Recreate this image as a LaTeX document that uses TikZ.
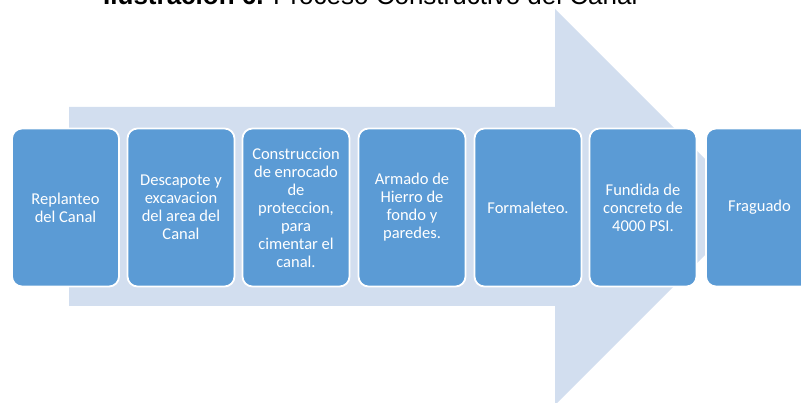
\documentclass[tikz,border=0pt]{standalone}
\usepackage{fontspec}
\setmainfont{Carlito}
\newfontfamily\titlefont{Liberation Sans}
\definecolor{boxblue}{RGB}{91,155,213}
\definecolor{arrowblue}{RGB}{210,222,239}
\begin{document}
\begin{tikzpicture}[x=1pt,y=-1pt,
  stepbox/.style={draw=white, line width=1.8pt, fill=boxblue, rounded corners=10pt,
    minimum width=107pt, minimum height=158pt, inner sep=2pt, align=center,
    text=white, font=\fontsize{16.5}{18}\selectfont}]
\useasboundingbox (0,0) rectangle (801,403);
% big arrow
\fill[arrowblue] (69,107) -- (555,107) -- (555,9) -- (753,207) -- (555,405) -- (555,306) -- (69,306) -- cycle;
% title
\node[anchor=base west, inner sep=0pt, font=\titlefont\fontsize{26}{30}\selectfont] (title) at (103,4.5)
  {\textbf{Ilustración 6.} Proceso Constructivo del Canal};
% boxes
\node[stepbox] (b1) at (65.5,207.5) {Replanteo\\del Canal};
\node[stepbox] (b2) at (181,207.5) {Descapote y\\excavacion\\del area del\\Canal};
\node[stepbox] (b3) at (296,207.5) {Construccion\\de enrocado\\de\\proteccion,\\para\\cimentar el\\canal.};
\node[stepbox] (b4) at (412,207.5) {Armado de\\Hierro de\\fondo y\\paredes.};
\node[stepbox] (b5) at (528,207.5) {Formaleteo.};
\node[stepbox] (b6) at (643,207.5) {Fundida de\\concreto de\\4000 PSI.};
\node[stepbox] (b7) at (759.5,207.5) {Fraguado};
\end{tikzpicture}
\end{document}
